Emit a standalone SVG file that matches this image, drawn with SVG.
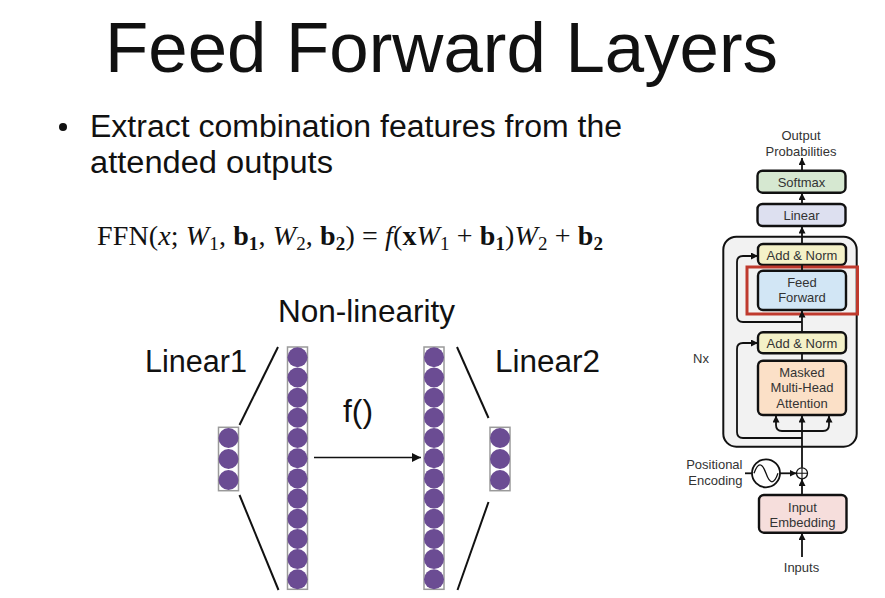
<svg xmlns="http://www.w3.org/2000/svg" width="885" height="598" viewBox="0 0 885 598">
<style>
.t{font-family:"Liberation Sans",Arial,sans-serif;fill:#111}
.s{font-family:"Liberation Sans",Arial,sans-serif;font-size:13px;fill:#333;text-anchor:middle}
.m{font-family:"Liberation Serif","Times New Roman",serif;font-size:28px;fill:#111}
.n{fill:#6b4c93}
.col{fill:#fff;stroke:#9a9a9a;stroke-width:1.5}
.ln{stroke:#111;stroke-width:2;fill:none}
.bx{stroke:#111;stroke-width:2.4}
.c{stroke:#111;stroke-width:1.8;fill:none}
.it{font-style:italic}
.bd{font-weight:bold}
</style>
<defs>
<marker id="ah" viewBox="0 0 10 10" refX="10" refY="5" markerWidth="7" markerHeight="7" markerUnits="userSpaceOnUse" orient="auto"><path d="M0,0 L10,5 L0,10 z" fill="#111"/></marker>
<marker id="ah2" viewBox="0 0 10 10" refX="10" refY="5" markerWidth="9" markerHeight="9" markerUnits="userSpaceOnUse" orient="auto"><path d="M0,0 L10,5 L0,10 z" fill="#111"/></marker>
</defs>
<rect width="885" height="598" fill="#fff"/>

<g id="title"><text class="t" x="105" y="72" font-size="70" textLength="673" lengthAdjust="spacingAndGlyphs">Feed Forward Layers</text></g>

<g id="bullet">
<circle cx="63" cy="127" r="4" fill="#111"/>
<text class="t" x="90" y="137" font-size="31" textLength="532" lengthAdjust="spacingAndGlyphs">Extract combination features from the</text>
<text class="t" x="90" y="173" font-size="31" textLength="243" lengthAdjust="spacingAndGlyphs">attended outputs</text>
</g>

<g id="formula">
<text class="m" x="97" y="245" textLength="506" lengthAdjust="spacing">FFN(<tspan class="it">x</tspan>; <tspan class="it">W</tspan><tspan font-size="19" dy="5">1</tspan><tspan dy="-5">, </tspan><tspan class="bd">b</tspan><tspan class="bd" font-size="19" dy="5">1</tspan><tspan dy="-5">, </tspan><tspan class="it">W</tspan><tspan font-size="19" dy="5">2</tspan><tspan dy="-5">, </tspan><tspan class="bd">b</tspan><tspan class="bd" font-size="19" dy="5">2</tspan><tspan dy="-5">) = </tspan><tspan class="it">f</tspan>(<tspan class="bd">x</tspan><tspan class="it">W</tspan><tspan font-size="19" dy="5">1</tspan><tspan dy="-5"> + </tspan><tspan class="bd">b</tspan><tspan class="bd" font-size="19" dy="5">1</tspan><tspan dy="-5">)</tspan><tspan class="it">W</tspan><tspan font-size="19" dy="5">2</tspan><tspan dy="-5"> + </tspan><tspan class="bd">b</tspan><tspan class="bd" font-size="19" dy="5">2</tspan></text>
</g>

<g id="labels">
<text class="t" x="278" y="322" font-size="31.5" textLength="177" lengthAdjust="spacingAndGlyphs">Non-linearity</text>
<text class="t" x="145" y="372" font-size="31" textLength="102" lengthAdjust="spacingAndGlyphs">Linear1</text>
<text class="t" x="495" y="372" font-size="31" textLength="105" lengthAdjust="spacingAndGlyphs">Linear2</text>
<text class="t" x="343" y="422" font-size="31" textLength="30" lengthAdjust="spacingAndGlyphs">f()</text>
</g>

<g id="input-layer">
<rect class="col" x="218.5" y="427.3" width="20" height="63.4"/>
<circle class="n" cx="228.5" cy="438" r="10"/>
<circle class="n" cx="228.5" cy="459" r="10"/>
<circle class="n" cx="228.5" cy="480" r="10"/>
</g>

<g id="hidden-layer-1">
<rect class="col" x="287.5" y="347" width="20" height="242.3"/>
<circle class="n" cx="297.5" cy="357.3" r="10"/><circle class="n" cx="297.5" cy="377.5" r="10"/><circle class="n" cx="297.5" cy="397.7" r="10"/><circle class="n" cx="297.5" cy="417.8" r="10"/><circle class="n" cx="297.5" cy="438" r="10"/><circle class="n" cx="297.5" cy="458.2" r="10"/><circle class="n" cx="297.5" cy="478.4" r="10"/><circle class="n" cx="297.5" cy="498.6" r="10"/><circle class="n" cx="297.5" cy="518.7" r="10"/><circle class="n" cx="297.5" cy="538.9" r="10"/><circle class="n" cx="297.5" cy="559.1" r="10"/><circle class="n" cx="297.5" cy="579.3" r="10"/>
</g>

<g id="hidden-layer-2">
<rect class="col" x="424" y="347" width="20" height="242.3"/>
<circle class="n" cx="434" cy="357.3" r="10"/><circle class="n" cx="434" cy="377.5" r="10"/><circle class="n" cx="434" cy="397.7" r="10"/><circle class="n" cx="434" cy="417.8" r="10"/><circle class="n" cx="434" cy="438" r="10"/><circle class="n" cx="434" cy="458.2" r="10"/><circle class="n" cx="434" cy="478.4" r="10"/><circle class="n" cx="434" cy="498.6" r="10"/><circle class="n" cx="434" cy="518.7" r="10"/><circle class="n" cx="434" cy="538.9" r="10"/><circle class="n" cx="434" cy="559.1" r="10"/><circle class="n" cx="434" cy="579.3" r="10"/>
</g>

<g id="output-layer">
<rect class="col" x="490" y="427.3" width="20" height="63.4"/>
<circle class="n" cx="500" cy="438" r="10"/>
<circle class="n" cx="500" cy="459" r="10"/>
<circle class="n" cx="500" cy="480" r="10"/>
</g>

<g id="nn-connectors">
<path class="ln" d="M239.5 425 L278 347"/>
<path class="ln" d="M239.5 495 L278.5 590"/>
<path class="ln" d="M457 347 L488.5 418"/>
<path class="ln" d="M488.5 502 L457.5 590"/>
<path d="M314 457.5 H421" stroke="#111" stroke-width="1.5" marker-end="url(#ah2)"/>
</g>

<g id="encoder-block"><rect x="723.3" y="236.7" width="133.4" height="210" rx="13" fill="#f2f2f2" stroke="#111" stroke-width="2"/>
<text x="693" y="363" class="s" style="text-anchor:start">Nx</text></g>

<g id="output-probabilities"><text class="s" x="801" y="140" font-size="13.5">Output</text><text class="s" x="801" y="156" font-size="13.5">Probabilities</text></g>
<g id="softmax"><rect class="bx" x="757.5" y="170.7" width="88" height="22" rx="5" fill="#d6e8d1"/><text class="s" x="801.5" y="186.5">Softmax</text></g>
<g id="linear"><rect class="bx" x="757.5" y="204" width="88" height="22" rx="5" fill="#dde0f0"/><text class="s" x="801.5" y="220">Linear</text></g>
<g id="add-norm-1"><rect class="bx" x="758" y="244" width="88" height="21" rx="5" fill="#f4f1c8"/><text class="s" x="802" y="260">Add &amp; Norm</text></g>
<g id="feed-forward"><rect class="bx" x="758" y="270.7" width="88" height="39.3" rx="5" fill="#d2e6f5"/><text class="s" x="802" y="286.5">Feed</text><text class="s" x="802" y="302">Forward</text></g>
<g id="add-norm-2"><rect class="bx" x="758" y="332.3" width="88" height="21" rx="5" fill="#f4f1c8"/><text class="s" x="802" y="348.3">Add &amp; Norm</text></g>
<g id="masked-attention"><rect class="bx" x="758" y="360.7" width="88" height="54.3" rx="5" fill="#fbe0c7"/><text class="s" x="802" y="376.5">Masked</text><text class="s" x="802" y="392">Multi-Head</text><text class="s" x="802" y="407.5">Attention</text></g>
<g id="positional-encoding"><text class="s" x="742.5" y="468.5" style="text-anchor:end">Positional</text><text class="s" x="742.5" y="484.5" style="text-anchor:end">Encoding</text>
<circle cx="766" cy="473.3" r="14" fill="#fff" stroke="#111" stroke-width="1.8"/><path d="M754 473.3 C758 462 762 462 766 473.3 S774 484.6 778 473.3" fill="none" stroke="#111" stroke-width="1.3"/></g>
<g id="add-op"><circle cx="802" cy="473.3" r="5.5" fill="#fff" stroke="#111" stroke-width="1.3"/><path d="M796.5 473.3 H807.5 M802 467.8 V478.8" stroke="#111" stroke-width="1.1"/></g>
<g id="input-embedding"><rect class="bx" x="759" y="495" width="87.5" height="37.7" rx="5" fill="#f6dedc"/><text class="s" x="802.5" y="511.5">Input</text><text class="s" x="802.5" y="527">Embedding</text></g>
<g id="inputs"><text class="s" x="801.5" y="572">Inputs</text></g>

<g id="red-highlight"><rect x="747" y="267" width="110.5" height="47" fill="none" stroke="#bf3a2e" stroke-width="3"/></g>

<g id="transformer-connectors">
<path class="c" d="M802 170.7 V158" marker-end="url(#ah)"/>
<path class="c" d="M802 204 V193" marker-end="url(#ah)"/>
<path class="c" d="M802 244 V226.5" marker-end="url(#ah)"/>
<path class="c" d="M802 270.7 V265"/>
<path class="c" d="M802 332.3 V310.5" marker-end="url(#ah)"/>
<path class="c" d="M802 360.7 V353.3"/>
<path class="c" d="M802 322 H743 Q737 322 737 316 V262 Q737 256 743 256 H758" marker-end="url(#ah)"/>
<path class="c" d="M802 438 H743 Q737 438 737 432 V349 Q737 343 743 343 H758" marker-end="url(#ah)"/>
<path class="c" d="M802 467.8 V415.5" marker-end="url(#ah)"/>
<path class="c" d="M802 431 H782 Q776 431 776 425 V415.5" marker-end="url(#ah)"/>
<path class="c" d="M802 431 H823 Q829 431 829 425 V415.5" marker-end="url(#ah)"/>
<path class="c" d="M745 473.3 H752"/>
<path class="c" d="M780 473.3 H796.5" marker-end="url(#ah)"/>
<path class="c" d="M802 495 V479" marker-end="url(#ah)"/>
<path class="c" d="M802 557 V533" marker-end="url(#ah)"/>
</g>
</svg>
